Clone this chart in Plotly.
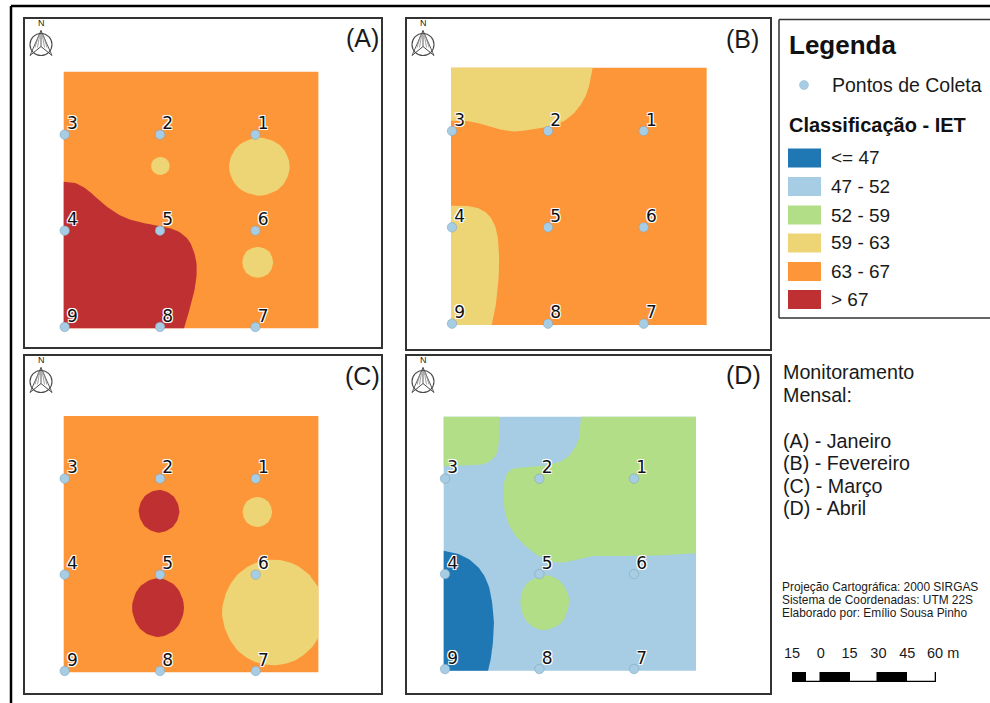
import plotly.graph_objects as go

W, H = 990, 703

# ---------- class colours ----------
class_labels = ["<= 47", "47 - 52", "52 - 59", "59 - 63", "63 - 67", "> 67"]
class_colors = ["#1f78b4", "#a6cde3", "#b2de87", "#edd576", "#fd9638", "#be3032"]
C_DBLUE, C_LBLUE, C_GREEN, C_YELLOW, C_ORANGE, C_RED = class_colors
C_POINT = "#a6cde3"

# ---------- sampling points (map units, origin = lower-left of the raster) ----------
point_ids = ["1", "2", "3", "6", "5", "4", "7", "8", "9"]
points_a_x = [575, 289, 3, 575, 289, 3, 575, 289, 3]
points_a_y = [581, 581, 581, 293, 293, 293, 4, 4, 4]
points_b_x = [578, 291, 3, 578, 291, 3, 578, 291, 3]
points_b_y = [582, 582, 582, 293, 293, 293, 4, 4, 4]
points_c_x = [576, 289, 3, 576, 289, 3, 576, 289, 3]
points_c_y = [581, 581, 581, 293, 293, 293, 4, 4, 4]
points_d_x = [571, 287, 4, 571, 287, 4, 571, 287, 4]
points_d_y = [576, 576, 576, 290, 290, 290, 5, 5, 5]

# ---------- raster extents ----------
raster_a = (764, 770)
raster_b = (767, 772)
raster_c = (764, 769)
raster_d = (757, 762)

# ---------- class boundaries ----------
a_red_curve = [(0, 440), (34, 436), (69, 417), (109, 382), (149, 351), (189, 330), (239, 316), (289, 307),
               (339, 293), (374, 265), (392, 225), (399, 185), (396, 135), (384, 80), (361, 0)]
a_yellow_big = [(678, 485), (651, 547), (587, 572), (523, 547), (496, 485), (523, 423), (587, 398), (651, 423)]
a_yellow_small = [(318, 487), (310, 506), (290, 514), (270, 506), (262, 487), (270, 468), (290, 460), (310, 468)]
a_yellow_low = [(628, 198), (615, 231), (582, 244), (549, 231), (536, 198), (549, 165), (582, 152), (615, 165)]

b_yellow_top = [(0, 613), (32, 613), (72, 608), (117, 595), (182, 581), (247, 587), (307, 597), (357, 625),
                (392, 665), (412, 710), (425, 772)]
b_yellow_low = [(0, 358), (37, 358), (82, 350), (117, 325), (137, 280), (144, 215), (143, 145), (135, 65), (122, 0)]

c_red_up = [(347, 483), (329, 528), (286, 547), (243, 528), (225, 483), (243, 438), (286, 419), (329, 438)]
c_yellow_up = [(625, 481), (612, 513), (581, 526), (550, 513), (537, 481), (550, 449), (581, 436), (612, 449)]
c_red_low = [(361, 194), (338, 256), (283, 282), (228, 256), (205, 194), (228, 132), (283, 106), (338, 132)]
c_yellow_big = [(764, 255), (738, 291), (690, 325), (629, 338), (568, 325), (520, 291), (488, 240), (475, 180),
                (488, 120), (520, 68), (568, 34), (629, 21), (690, 34), (738, 68), (764, 104)]

d_green_tl = [(0, 613), (69, 615), (119, 620), (149, 637), (164, 672), (166, 762)]
d_green_big = [(412, 762), (407, 702), (389, 662), (359, 632), (309, 617), (249, 612), (204, 604), (184, 577),
               (179, 522), (187, 462), (214, 407), (259, 362), (299, 337), (349, 324), (399, 334), (449, 344),
               (519, 344), (619, 345), (757, 352)]
d_green_blob = [(376, 210), (355, 262), (309, 286), (250, 262), (230, 204), (250, 146), (299, 122), (355, 146)]
d_dblue = [(0, 360), (39, 352), (79, 332), (114, 297), (137, 247), (149, 172), (150, 122), (144, 52), (133, 0)]

# ---------- scale bar (metres) ----------
scale_starts = [-15, -7.5, 0, 15, 30, 45]
scale_widths = [7.5, 7.5, 15, 15, 15, 15]
scale_ticks = [-15, 0, 15, 30, 45]
scale_ticktext = ["15", "0", "15", "30", "45"]
scale_last = "60 m"

legend_title = "Legenda"
legend_point = "Pontos de Coleta"
legend_class = "Classificação - IET"
months_text = ["Monitoramento", "Mensal:", "(A) - Janeiro", "(B) - Fevereiro", "(C) - Março", "(D) - Abril"]
credit_text = ["Projeção Cartográfica: 2000 SIRGAS", "Sistema de Coordenadas: UTM 22S", "Elaborado por: Emílio Sousa Pinho"]


def smooth(pts, closed=False, n=8):
    """Catmull-Rom through the read boundary points."""
    m = len(pts)
    out = []
    segs = m if closed else m - 1
    for i in range(segs):
        if closed:
            p0, p1, p2, p3 = pts[(i - 1) % m], pts[i], pts[(i + 1) % m], pts[(i + 2) % m]
        else:
            p0, p1, p2, p3 = pts[max(i - 1, 0)], pts[i], pts[i + 1], pts[min(i + 2, m - 1)]
        for k in range(n):
            t = k / n
            out.append(tuple(
                0.5 * (2 * p1[d] + (p2[d] - p0[d]) * t + (2 * p0[d] - 5 * p1[d] + 4 * p2[d] - p3[d]) * t * t
                       + (3 * p1[d] - p0[d] - 3 * p2[d] + p3[d]) * t ** 3) for d in (0, 1)))
    out.append(pts[0] if closed else pts[-1])
    return out


def rect(w, h):
    return [(0, 0), (w, 0), (w, h), (0, h), (0, 0)]


panels = [
    dict(tag="(A)", frame=(25, 19, 381, 347), origin=(63.7, 328.3), size=raster_a, base=C_ORANGE,
         px=points_a_x, py=points_a_y, tagpos=(362, 38),
         regions=[(smooth(a_red_curve) + [(0, 0), (0, 440)], C_RED),
                  (smooth(a_yellow_big, True), C_YELLOW),
                  (smooth(a_yellow_small, True), C_YELLOW),
                  (smooth(a_yellow_low, True), C_YELLOW)]),
    dict(tag="(B)", frame=(407, 19, 769.5, 349), origin=(451, 325), size=raster_b, base=C_ORANGE,
         px=points_b_x, py=points_b_y, tagpos=(742, 39),
         regions=[(smooth(b_yellow_top) + [(0, 772), (0, 613)], C_YELLOW),
                  (smooth(b_yellow_low) + [(0, 0), (0, 358)], C_YELLOW)]),
    dict(tag="(C)", frame=(25, 356, 381, 693), origin=(63.7, 672.3), size=raster_c, base=C_ORANGE,
         px=points_c_x, py=points_c_y, tagpos=(362, 376),
         regions=[(smooth(c_red_up, True), C_RED),
                  (smooth(c_yellow_up, True), C_YELLOW),
                  (smooth(c_red_low, True), C_RED),
                  (smooth(c_yellow_big) + [c_yellow_big[0]], C_YELLOW)]),
    dict(tag="(D)", frame=(407, 356, 769.5, 693), origin=(443.7, 670.7), size=raster_d, base=C_LBLUE,
         px=points_d_x, py=points_d_y, tagpos=(743, 375),
         regions=[(smooth(d_green_tl) + [(0, 762), (0, 613)], C_GREEN),
                  (smooth(d_green_big) + [(757, 762), (412, 762)], C_GREEN),
                  (smooth(d_green_blob, True), C_GREEN),
                  (smooth(d_dblue) + [(0, 0), (0, 360)], C_DBLUE)]),
]


def fx(x):
    return x / W


def fy(y):
    return 1 - y / H


fig = go.Figure()
layout = {}
shapes = []
annotations = []


def text(x, y, s, size, bold=False, anchor="left", family="Liberation Sans", color="#1a1a1a"):
    annotations.append(dict(xref="paper", yref="paper", x=fx(x), y=fy(y), text=f"<b>{s}</b>" if bold else s,
                            showarrow=False, xanchor=anchor, yanchor="middle",
                            font=dict(size=size, family=family, color=color),
                            borderpad=0, borderwidth=0))


def line(x0, y0, x1, y1, color="#333333", width=1.0):
    shapes.append(dict(type="line", xref="paper", yref="paper", x0=fx(x0), y0=fy(y0), x1=fx(x1), y1=fy(y1),
                       line=dict(color=color, width=width)))


def north_arrow(cx, cy):
    col = "#4a4a4a"
    shapes.append(dict(type="circle", xref="paper", yref="paper", x0=fx(cx - 11), x1=fx(cx + 11),
                       y0=fy(cy - 11), y1=fy(cy + 11), line=dict(color=col, width=1.1)))
    line(cx, cy - 14, cx - 11, cy + 11, col, 0.9)
    line(cx, cy - 14, cx + 11, cy + 11, col, 0.9)
    line(cx - 11, cy + 11, cx, cy + 2, col, 1.0)
    line(cx + 11, cy + 11, cx, cy + 2, col, 1.0)
    line(cx, cy - 14, cx, cy + 2, col, 0.9)
    for dx in (-6, -3.5, 3.5, 6):
        line(cx + dx * 0.4, cy - 9, cx + dx, cy + 3, "#8a8a8a", 0.8)
    text(cx, cy - 21.5, "N", 9, anchor="center", color="#222222")


for i, p in enumerate(panels):
    k = "" if i == 0 else str(i + 1)
    fx0, fy0, fx1, fy1 = p["frame"]
    ox, oy = p["origin"]
    axis_common = dict(showgrid=False, zeroline=False, showticklabels=False, ticks="", showline=True, mirror=True,
                       linecolor="#333333", linewidth=1.5, fixedrange=True, automargin=False)
    layout["xaxis" + k] = dict(domain=[fx(fx0), fx(fx1)], range=[(fx0 - ox) * 3, (fx1 - ox) * 3],
                               anchor="y" + k, **axis_common)
    layout["yaxis" + k] = dict(domain=[fy(fy1), fy(fy0)], range=[(oy - fy1) * 3, (oy - fy0) * 3],
                               anchor="x" + k, **axis_common)
    polys = [(rect(*p["size"]), p["base"])] + p["regions"]
    for poly, col in polys:
        fig.add_trace(go.Scatter(x=[q[0] for q in poly], y=[q[1] for q in poly], mode="lines", fill="toself",
                                 fillcolor=col, line=dict(width=0, color=col), hoverinfo="skip", showlegend=False,
                                 xaxis="x" + k, yaxis="y" + k))
    fig.add_trace(go.Scatter(x=p["px"], y=p["py"], mode="markers",
                             marker=dict(size=9.5, color=C_POINT, line=dict(color="#7f9fb3", width=0.5)),
                             hoverinfo="skip", showlegend=False, cliponaxis=False, xaxis="x" + k, yaxis="y" + k))
    fig.add_trace(go.Scatter(x=[v + 7 for v in p["px"]], y=[v + 3 for v in p["py"]], mode="text", text=point_ids,
                             textposition="top right",
                             textfont=dict(family="DejaVu Sans", size=17, color="#111111",
                                           shadow="1px 1px 0 #fff, -1px -1px 0 #fff, 1px -1px 0 #fff, -1px 1px 0 #fff, 0 0 2px #fff"),
                             hoverinfo="skip", showlegend=False, cliponaxis=False, xaxis="x" + k, yaxis="y" + k))
    text(p["tagpos"][0], p["tagpos"][1], p["tag"], 25, anchor="center")
    north_arrow(fx0 + 16, fy0 + 25.5)

# ---------- scale bar on its own metric axis ----------
fig.add_trace(go.Bar(y=[0] * 6, x=scale_widths, base=scale_starts, orientation="h", width=1,
                     marker=dict(color=["#000000", "#ffffff"] * 3, line=dict(color="#000000", width=1.3)),
                     cliponaxis=False, hoverinfo="skip", showlegend=False, xaxis="x5", yaxis="y5"))
layout["xaxis5"] = dict(domain=[fx(792), fx(936)], range=[-15, 60], anchor="y5", side="top", tickmode="array",
                        tickvals=scale_ticks, ticktext=scale_ticktext, showgrid=False, zeroline=False, showline=False,
                        ticks="outside", ticklen=7, tickcolor="rgba(0,0,0,0)", tickangle=0, automargin=False,
                        tickfont=dict(size=14.5, family="Liberation Sans", color="#1a1a1a"), fixedrange=True)
layout["yaxis5"] = dict(domain=[fy(682), fy(672)], range=[-0.5, 0.5], anchor="x5", visible=False, fixedrange=True,
                        automargin=False)
text(927, 653, scale_last, 14.5)

# ---------- outer frame ----------
line(11, 6, 11, 703, "#000000", 2.5)
line(11, 6, 990, 6, "#000000", 2.5)

# ---------- legend box (runs off the right side) ----------
line(779, 19.5, 990, 19.5, "#333333", 1.5)
line(779, 318, 990, 318, "#333333", 1.5)
line(779, 19.5, 779, 318, "#333333", 1.5)
text(789, 45, legend_title, 26, bold=True, color="#111111")
shapes.append(dict(type="circle", xref="paper", yref="paper", x0=fx(799.5), x1=fx(808.5), y0=fy(89.5), y1=fy(80.5),
                   fillcolor=C_POINT, line=dict(color="#8fb4c9", width=0.5)))
text(831.5, 85, legend_point, 19.5)
text(789, 125, legend_class, 20, bold=True, color="#111111")
row_y = [158, 186.5, 215, 243, 271.5, 299.5]
for yy, lab, col in zip(row_y, class_labels, class_colors):
    shapes.append(dict(type="rect", xref="paper", yref="paper", x0=fx(788), x1=fx(821), y0=fy(yy + 9.5), y1=fy(yy - 9.5),
                       fillcolor=col, line=dict(width=0)))
    text(831, yy, lab.replace("<", "&lt;").replace(">", "&gt;"), 19)

# ---------- right-hand notes ----------
for yy, s in zip([372, 395, 441, 463, 486, 508], months_text):
    text(783, yy, s, 19.7)
for yy, s in zip([587, 600, 613], credit_text):
    text(782, yy, s, 11.9)

fig.update_layout(width=W, height=H, margin=dict(l=0, r=0, t=0, b=0, autoexpand=False), paper_bgcolor="white",
                  plot_bgcolor="white", shapes=shapes, annotations=annotations, barmode="overlay", bargap=0,
                  showlegend=False, font=dict(family="Liberation Sans"), **layout)

post = "document.body.style.margin='0';document.body.style.overflow='hidden';"
fig.write_html("out.html", config={"displayModeBar": False}, post_script=post)
